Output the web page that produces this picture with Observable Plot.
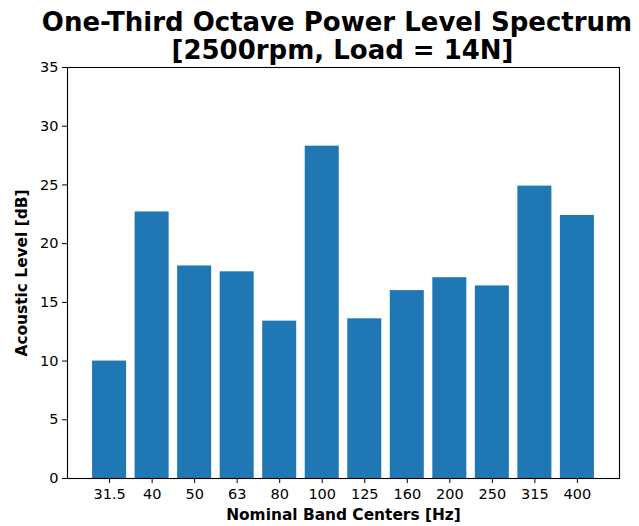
<!DOCTYPE html>
<html>
<head>
<meta charset="utf-8">
<script src="https://cdn.jsdelivr.net/npm/d3@7"></script>
<script src="https://cdn.jsdelivr.net/npm/@observablehq/plot@0.6"></script>
<style>
  html, body { margin: 0; padding: 0; background: #fff; }
  #chart svg { display: block; font-family: "DejaVu Sans", sans-serif; }
</style>
</head>
<body>
<div id="chart"></div>
<script>
const bands = ["31.5", "40", "50", "63", "80", "100", "125", "160", "200", "250", "315", "400"];
const levels = [10.0, 22.7, 18.1, 17.6, 13.4, 28.3, 13.6, 16.0, 17.1, 16.4, 24.9, 22.4];
const yTicks = [0, 5, 10, 15, 20, 25, 30, 35];
const titleLines = ["One-Third Octave Power Level Spectrum", "[2500rpm, Load = 14N]"];
const xLabel = "Nominal Band Centers [Hz]";
const yLabel = "Acoustic Level [dB]";

const data = bands.map((b, i) => ({band: b, level: levels[i]}));

const chart = Plot.plot({
  width: 639,
  height: 526,
  marginLeft: 67,
  marginRight: 20,
  marginTop: 67,
  marginBottom: 48,
  style: {fontFamily: "DejaVu Sans, sans-serif", fontSize: "14px", color: "black", background: "white"},
  x: {domain: bands, paddingInner: 0.2, paddingOuter: 0.59, round: false, label: null},
  y: {domain: [0, 35], label: null},
  marks: [
    Plot.barY(data, {x: "band", y: "level", fill: "#1f77b4"}),
    Plot.axisX({tickSize: 5, tickPadding: 5, fontSize: 14.5, label: null}),
    Plot.axisY({ticks: yTicks, tickSize: 5, tickPadding: 4, fontSize: 14.5, label: null}),
    Plot.frame({stroke: "black", strokeWidth: 1.1}),
    Plot.text([xLabel], {text: d => d, frameAnchor: "bottom", dy: 41, fontWeight: "bold", fontSize: 15.4}),
    Plot.text([yLabel], {text: d => d, frameAnchor: "left", textAnchor: "middle", rotate: -90, dx: -45.5, fontWeight: "bold", fontSize: 15.4}),
    Plot.text([titleLines[0]], {text: d => d, frameAnchor: "top", dx: -6.5, dy: -55, fontWeight: "bold", fontSize: 26}),
    Plot.text([titleLines[1]], {text: d => d, frameAnchor: "top", dx: -1, dy: -27, fontWeight: "bold", fontSize: 26})
  ]
});
document.getElementById("chart").appendChild(chart);
</script>
</body>
</html>
